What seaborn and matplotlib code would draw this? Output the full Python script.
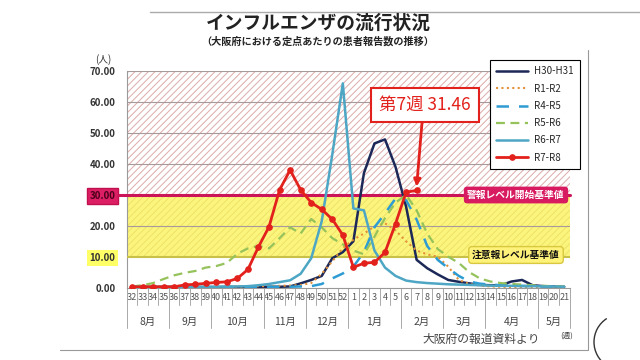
import numpy as np
import pandas as pd
import matplotlib
matplotlib.use("Agg")
import matplotlib.pyplot as plt
import matplotlib.transforms as mtrans
from matplotlib.patches import Arc
from matplotlib.lines import Line2D
import seaborn as sns

# ---------------- data ----------------
weeks = list(range(32, 53)) + list(range(1, 22))
months = ["8月", "9月", "10月", "11月", "12月", "1月", "2月", "3月", "4月", "5月"]
month_sizes = [4, 4, 5, 4, 4, 5, 4, 4, 5, 3]

h30_h31 = [0.2, 0.2, 0.2, 0.2, 0.2, 0.2, 0.2, 0.2, 0.2, 0.2, 0.2, 0.3, 0.3, 0.3, 0.3,
           0.4, 1.4, 2.5, 3.8, 9.5, 11.5,
           15.0, 37.0, 46.6, 47.9, 39.0, 26.2, 9.0, 6.3, 4.3, 2.5, 1.9, 1.4, 0.9, 0.8,
           0.8, 2.0, 2.5, 0.8, 0.5, 0.4, 0.3]
r1_r2 = [0.3, 0.3, 0.3, 0.3, 0.3, 0.3, 0.3, 0.3, 0.3, 0.4, 0.4, 0.4, 0.5, 0.5, 0.6, 0.7,
         0.9, 1.5, 4.5, 8.5, 12.8,
         15.5, 17.5, 19.8, 20.8, 18.5, 15.0, 12.0, 10.8, 10.0, 6.8, 2.5, 1.2, 0.7, 0.4,
         0.3, 0.2, 0.2, 0.1, 0.1, 0.1, 0.1]
r4_r5 = [0.1, 0.1, 0.1, 0.1, 0.1, 0.1, 0.1, 0.1, 0.2, 0.2, 0.2, 0.2, 0.2, 0.3, 0.3, 0.3,
         0.4, 0.5, 1.2, 3.0, 4.6,
         6.8, 11.5, 19.5, 24.0, 28.8, 28.3, 22.0, 13.5, 9.0, 6.3, 3.8, 2.0, 1.3, 1.0,
         0.8, 0.7, 0.6, 0.5, 0.4, 0.4, 0.3]
r5_r6 = [0.4, 0.8, 1.5, 2.8, 4.0, 4.8, 5.4, 6.5, 7.0, 8.0, 11.0, 12.7, 13.5, 12.7, 16.0,
         19.5, 17.5, 22.2, 19.5, 16.0, 14.0,
         12.0, 10.8, 16.5, 22.5, 27.5, 30.0, 25.0, 17.5, 12.5, 10.0, 8.0, 5.0, 3.0, 2.0,
         1.5, 1.2, 1.0, 0.8, 0.6, 0.5, 0.4]
r6_r7 = [0.3, 0.3, 0.3, 0.3, 0.3, 0.3, 0.3, 0.3, 0.3, 0.4, 0.4, 0.5,
         0.8, 1.2, 1.8, 2.4, 4.5, 9.5, 21.5, 43.0, 66.0,
         25.6, 25.0, 12.0, 6.5, 3.8, 2.3, 1.8, 1.5, 1.3, 1.1, 1.0, 0.9, 0.8, 0.7,
         0.6, 0.6, 0.5, 0.5, 0.4, 0.4, 0.3]
r7_r8 = [0.3, 0.3, 0.3, 0.3, 0.3, 0.9, 1.1, 1.4, 1.7, 1.9, 3.0, 5.9, 13.2, 19.7, 31.6,
         38.0, 31.6, 27.5, 25.3, 22.1, 17.0,
         6.6, 7.9, 8.2, 11.4, 20.7, 30.8, 31.46]

alarm_level = 30
caution_level = 10
latest_label = "第7週 31.46"

# ---------------- style ----------------
sns.set_theme(style="white")
plt.rcParams["font.family"] = ["Noto Sans CJK JP", "DejaVu Sans"]
plt.rcParams["hatch.linewidth"] = 0.7

W, H = 640, 360
fig = plt.figure(figsize=(6.4, 3.6), dpi=100)
fig.patch.set_facecolor("white")

def fx(x):
    return x / W

def fy(y):
    return 1 - y / H

ax_l, ax_r, ax_t, ax_b = 126.7, 569.5, 71.0, 287.7
ax = fig.add_axes([fx(ax_l), fy(ax_b), (ax_r - ax_l) / W, (ax_b - ax_t) / H])
ax.set_facecolor("white")

# background bands
ax.axhspan(alarm_level, 70, facecolor="white", edgecolor="#DDAAAA", hatch="/////",
           linewidth=0, zorder=0)
ax.axhspan(caution_level, alarm_level, facecolor="#FBF57E", edgecolor="#EEE266",
           hatch="/////", linewidth=0, zorder=0)

for g in [20, 40, 50, 60, 70]:
    ax.axhline(g, color="#A89A9A", lw=0.8, zorder=1)

ax.axhline(alarm_level, xmin=-0.02, xmax=1, color="#CC1458", lw=2.2, zorder=3,
           clip_on=False)
ax.axhline(caution_level, color="#C8C048", lw=1.5, zorder=3)

x = np.arange(len(weeks))
series = [
    ("H30-H31", h30_h31, dict(color="#1C2857", lw=1.8, ls="-")),
    ("R1-R2", r1_r2, dict(color="#E3903A", lw=1.5, ls=(0, (1, 1.6)))),
    ("R4-R5", r4_r5, dict(color="#2E9CD3", lw=1.8, ls=(0, (5, 4)))),
    ("R5-R6", r5_r6, dict(color="#95C25A", lw=1.6, ls=(0, (4, 2.5)))),
    ("R6-R7", r6_r7, dict(color="#4DA6C4", lw=1.8, ls="-")),
]
for name, vals, kw in series:
    df = pd.DataFrame({"x": x[: len(vals)], "y": vals})
    sns.lineplot(data=df, x="x", y="y", ax=ax, label=name, zorder=4,
                 color=kw["color"], linewidth=kw["lw"], linestyle=kw["ls"])

df8 = pd.DataFrame({"x": x[: len(r7_r8)], "y": r7_r8})
sns.lineplot(data=df8, x="x", y="y", ax=ax, label="R7-R8", color="#E3211C",
             linewidth=2.0, marker="o", markersize=4, markeredgecolor="#E3211C",
             zorder=6)

if ax.get_legend() is not None:
    ax.get_legend().remove()

ax.set_xlim(-0.5, len(weeks) - 0.5)
ax.set_ylim(0, 70)
ax.set_xlabel("")
ax.set_ylabel("")

ax.set_yticks(range(0, 71, 10))
ax.set_yticklabels([f"{v:.2f}" for v in range(0, 71, 10)], fontsize=7,
                   fontweight="bold", color="#333333")
ax.tick_params(axis="y", length=0, pad=8)
for lab, v in zip(ax.get_yticklabels(), range(0, 71, 10)):
    if v == alarm_level:
        lab.set_bbox(dict(facecolor="#DC1E64", edgecolor="#C0104E", pad=2.0))
        lab.set_color("#4A0018")
    elif v == caution_level:
        lab.set_bbox(dict(facecolor="#FFFF66", edgecolor="none", pad=2.0))

ax.set_xticks(x)
ax.set_xticklabels([str(w) for w in weeks], fontsize=6.5, color="#555555")
ax.tick_params(axis="x", length=0, pad=4)

for s in ["top", "right"]:
    ax.spines[s].set_visible(False)
ax.spines["left"].set_color("#999999")
ax.spines["bottom"].set_color("#999999")
ax.spines["left"].set_linewidth(0.8)
ax.spines["bottom"].set_linewidth(0.8)

# separators and month labels
trans = mtrans.blended_transform_factory(ax.transData, ax.transAxes)
axh = ax_b - ax_t
short = -17 / axh
long_ = -40 / axh
bounds = np.cumsum([0] + month_sizes) - 0.5
for b in np.arange(-0.5, len(weeks), 1.0):
    ax.plot([b, b], [0, short], transform=trans, color="#AAAAAA", lw=0.7,
            clip_on=False)
for b in bounds:
    ax.plot([b, b], [0, long_], transform=trans, color="#AAAAAA", lw=0.7,
            clip_on=False)
for m, lo, hi in zip(months, bounds[:-1], bounds[1:]):
    ax.text((lo + hi) / 2, -34 / axh, m, transform=trans, ha="center",
            va="center", fontsize=7.5, color="#444444")

# legend
handles, labels = ax.get_legend_handles_labels()
leg = fig.legend(handles, labels, loc="upper left",
                 bbox_to_anchor=(fx(490), fy(60)), borderaxespad=0,
                 frameon=True, fontsize=7, handlelength=3.3, handletextpad=0.6,
                 labelspacing=0.75, borderpad=0.65,
                 fancybox=False, edgecolor="black", framealpha=1)
leg.get_frame().set_linewidth(0.8)

# titles
fig.text(fx(318), fy(23), "インフルエンザの流行状況", ha="center", va="center",
         fontsize=13.5, fontweight="bold", color="#222222")
fig.text(fx(318), fy(42), "（大阪府における定点あたりの患者報告数の推移）",
         ha="center", va="center", fontsize=7.3, fontweight="bold",
         color="#222222")
fig.add_artist(Line2D([fx(150), fx(640)], [fy(12), fy(12)], color="#AAAAAA",
                      lw=1.0))
fig.text(fx(103), fy(60), "(人)", ha="center", va="center", fontsize=7,
         color="#333333")

# latest week annotation
fig.text(fx(425), fy(105), latest_label, ha="center", va="center", fontsize=12.5,
         color="#E3211C",
         bbox=dict(boxstyle="square,pad=0.45", facecolor="white",
                   edgecolor="#E3211C", lw=1.5))
ax.annotate("", xy=(len(r7_r8) - 1, r7_r8[-1] + 1.2),
            xytext=(fx(422), fy(123)), textcoords="figure fraction",
            arrowprops=dict(arrowstyle="-|>", color="#E3211C", lw=2,
                            mutation_scale=10, shrinkA=0, shrinkB=0), zorder=7)

# level callouts
fig.text(fx(516), fy(195), "警報レベル開始基準値", ha="center", va="center",
         fontsize=7, fontweight="bold", color="white",
         bbox=dict(boxstyle="round,pad=0.35", facecolor="#D81B60",
                   edgecolor="none"))
fig.text(fx(516), fy(255), "注意報レベル基準値", ha="center", va="center",
         fontsize=7, fontweight="bold", color="#111111",
         bbox=dict(boxstyle="round,pad=0.35", facecolor="#FFF27A",
                   edgecolor="#D8C840"))

# source and unit
fig.text(fx(481), fy(339), "大阪府の報道資料より", ha="center", va="center",
         fontsize=8.5, color="#444444")
fig.text(fx(567), fy(336), "(週)", ha="center", va="center", fontsize=5.5,
         color="#444444")

# frame lines
fig.add_artist(Line2D([fx(588), fx(588)], [fy(50), fy(350)], color="#999999",
                      lw=0.8))
fig.add_artist(Line2D([fx(60), fx(588)], [fy(350), fy(350)], color="#999999",
                      lw=0.8))
fig.add_artist(Arc((fx(622), fy(342)), 56 / W, 56 / H, theta1=110, theta2=250,
                   transform=fig.transFigure, color="#333333", lw=1.0))

fig.savefig("out.png", dpi=100)
